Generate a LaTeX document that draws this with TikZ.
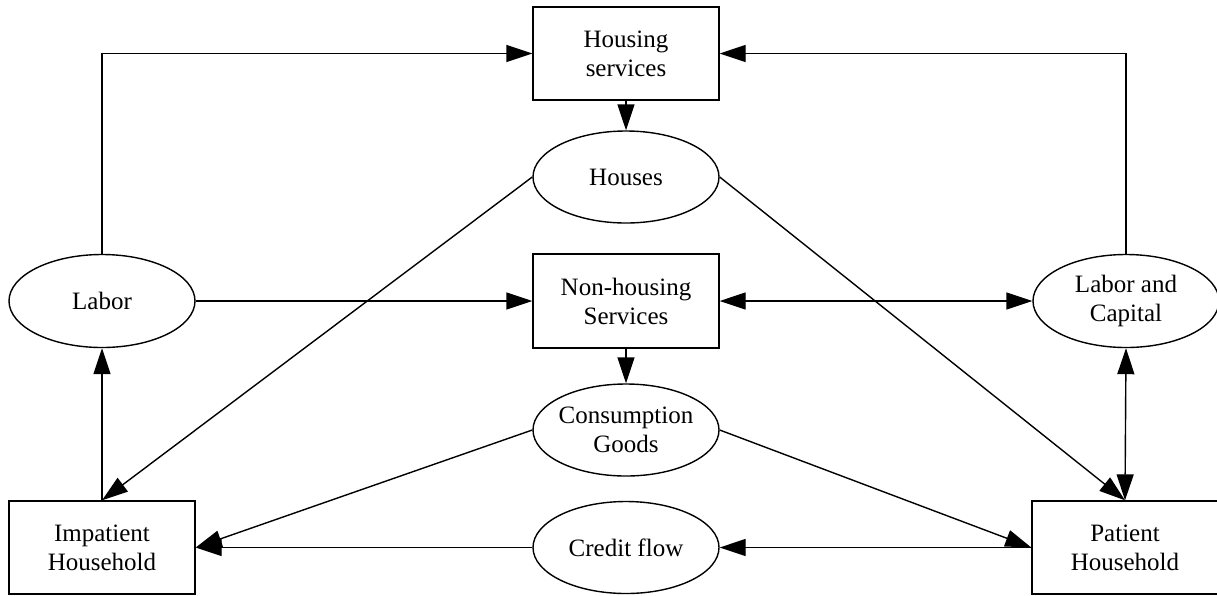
\documentclass[tikz,border=0pt]{standalone}
\usepackage{fontspec}
\setmainfont{Liberation Serif}
\usetikzlibrary{arrows.meta,shapes.geometric}
\tikzset{
  every node/.style={font=\fontsize{25}{29}\selectfont, align=center, inner sep=0pt},
  boxnode/.style={draw, rectangle, line width=1.4pt, minimum width=186pt, minimum height=93pt},
  ellnode/.style={draw, ellipse, line width=1.4pt, minimum width=186pt, minimum height=92pt, inner xsep=-5pt},
  arr/.style={line width=1.4pt, -{Triangle[length=26pt,width=17pt]}},
  arrtwo/.style={line width=1.4pt, {Triangle[length=26pt,width=17pt]}-{Triangle[length=26pt,width=17pt]}},
}
\begin{document}
\begin{tikzpicture}[x=1pt,y=-1pt]
\useasboundingbox (0,0) rectangle (1217,595);
\node[boxnode] (hs) at (626,53.5) {Housing\\services};
\node[ellnode] (houses) at (626,177) {Houses};
\node[ellnode, minimum height=93pt] (labor) at (102,301) {Labor};
\node[boxnode, minimum height=94pt] (nhs) at (626,301) {Non-housing\\Services};
\node[ellnode, minimum height=93pt] (lc) at (1126,301) {Labor and\\Capital};
\node[ellnode] (cg) at (626,430) {Consumption\\Goods};
\node[boxnode] (ih) at (102,547.5) {Impatient\\Household};
\node[ellnode] (cf) at (626,547.5) {Credit flow};
\node[boxnode] (ph) at (1125,547.5) {Patient\\Household};

\draw[arr] (labor.north) |- (hs.west);
\draw[arr] (lc.north) |- (hs.east);
\draw[arr] (hs) -- (houses);
\draw[arr] (houses.west) -- (ih.north);
\draw[arr] (houses.east) -- (ph.north);
\draw[arr] (labor.east) -- (nhs.west);
\draw[arrtwo] (nhs.east) -- (lc.west);
\draw[arr] (nhs) -- (cg);
\draw[arr] (ih.north) -- (labor.south);
\draw[arrtwo] (lc.south) -- (ph.north);
\draw[arr] (cg.west) -- (ih.east);
\draw[arr] (cg.east) -- (ph.west);
\draw[arr] (cf.west) -- (ih.east);
\draw[arr] (ph.west) -- (cf.east);
\end{tikzpicture}
\end{document}
